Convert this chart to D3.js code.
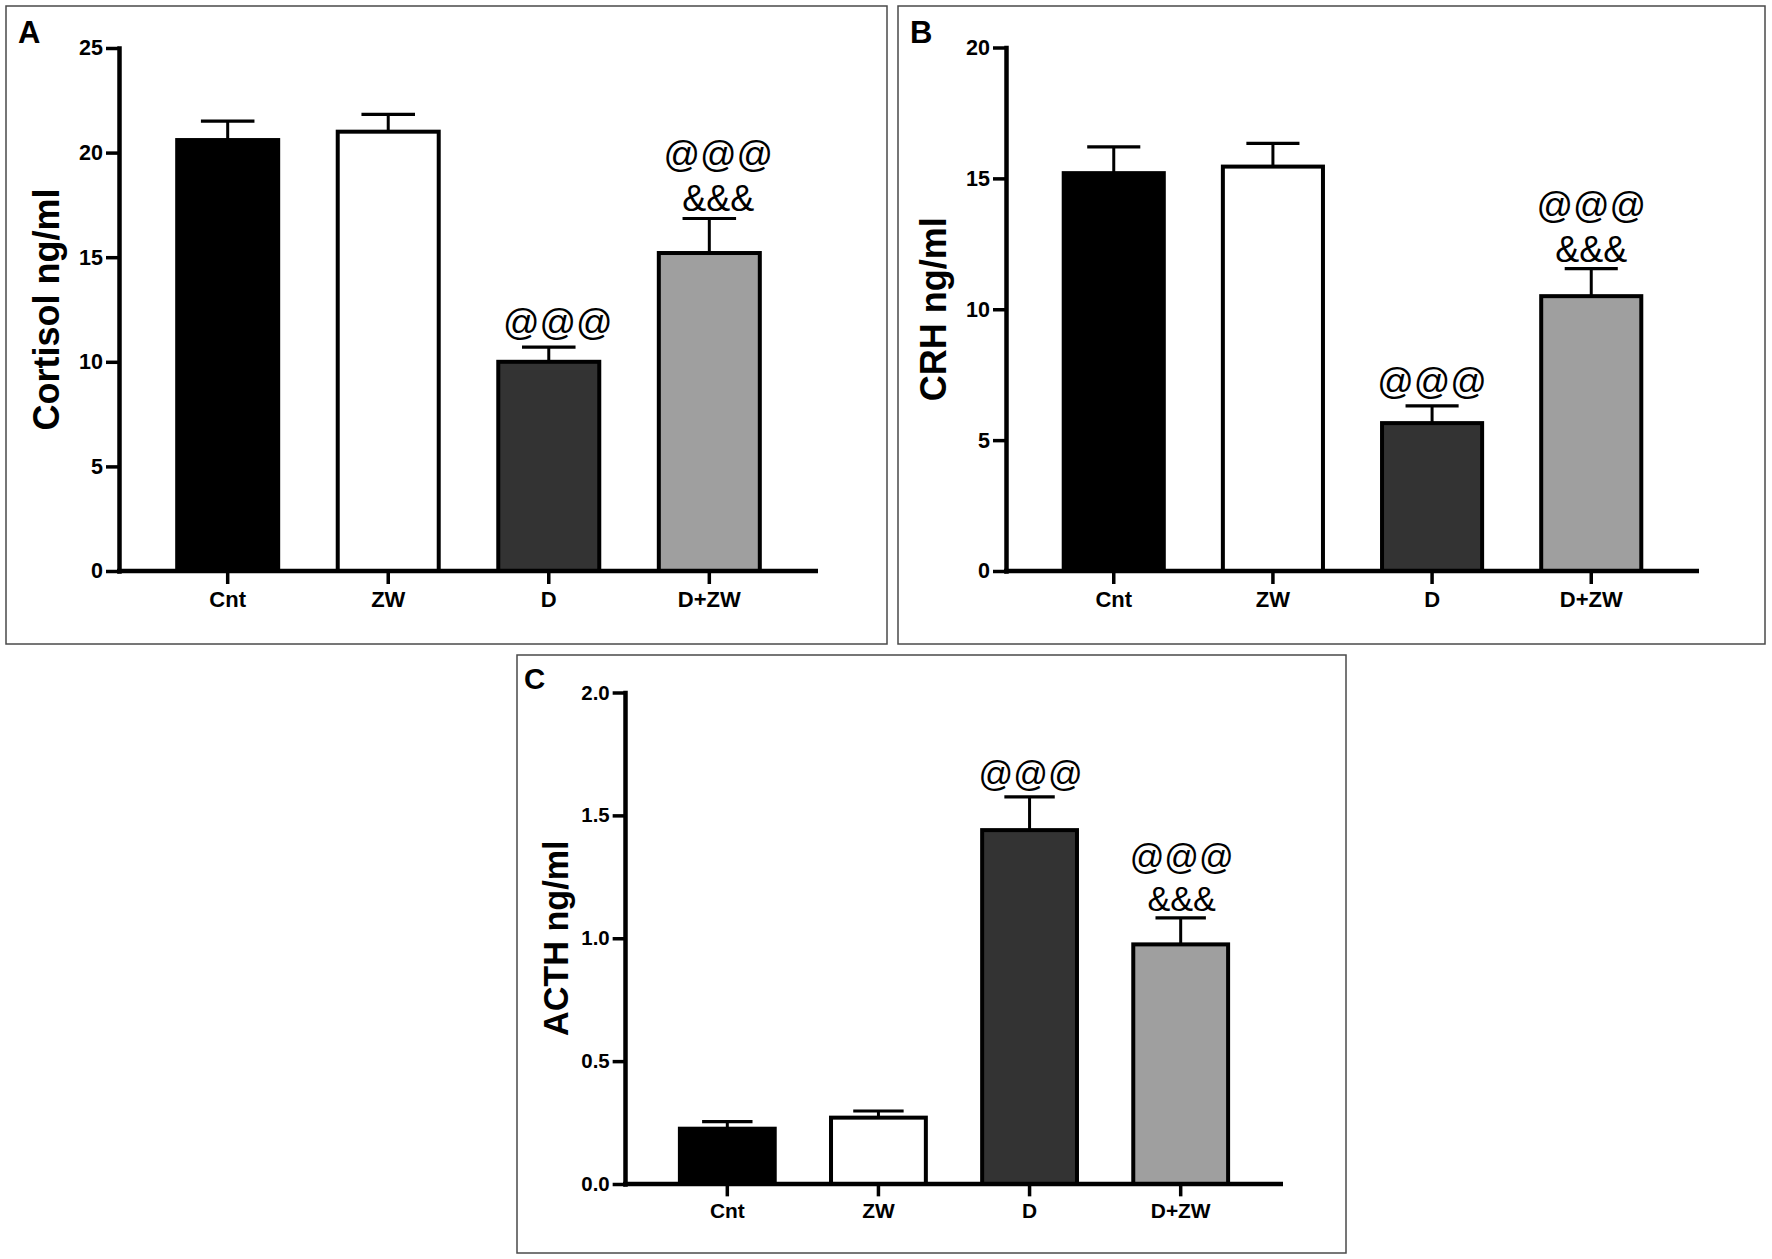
<!DOCTYPE html>
<html>
<head>
<meta charset="utf-8">
<script src="https://cdn.jsdelivr.net/npm/d3@7"></script>
<style>
  body { margin: 0; background: #fff; }
  svg text { font-family: "Liberation Sans", Arial, Helvetica, sans-serif; }
</style>
</head>
<body>
<div id="fig"></div>
<script>
// groups on the x axis
const categories = ["Cnt", "ZW", "D", "D+ZW"];
const barFills = ["#000000", "#ffffff", "#333333", "#9f9f9f"];

// Cortisol (A)
const cortisolMean = [20.6, 21.0, 10.0, 15.2];
const cortisolSem = [0.9, 0.83, 0.7, 1.65];
const cortisolTicks = [0, 5, 10, 15, 20, 25];

// CRH (B)
const crhMean = [15.2, 15.45, 5.65, 10.5];
const crhSem = [1.0, 0.89, 0.66, 1.05];
const crhTicks = [0, 5, 10, 15, 20];

// ACTH (C)
const acthMean = [0.225, 0.27, 1.44, 0.975];
const acthSem = [0.029, 0.027, 0.135, 0.108];
const acthTicks = [0, 0.5, 1.0, 1.5, 2.0];

// significance marks above each group (same for all panels)
const sigMarks = [[], [], ["@@@"], ["@@@", "&&&"]];

const W = 1772, H = 1259;

const svg = d3.select("#fig")
    .append("svg")
    .attr("width", W)
    .attr("height", H);

svg.append("rect")
    .attr("width", W)
    .attr("height", H)
    .attr("fill", "#fff");

// panel layout: frame box, axis origin, axis sizes, font scale
const panels = [
    { letter: "A", box: [6, 6, 881, 638], letterXY: [18, 43], ox: 119, oy: 571, plotH: 523, L: 699, k: 1, markDx: 9,
      title: "Cortisol ng/ml", mean: cortisolMean, sem: cortisolSem, ticks: cortisolTicks, fmt: d3.format("d") },
    { letter: "B", box: [898, 6, 867, 638], letterXY: [910, 43], ox: 1006, oy: 571, plotH: 523.5, L: 693, k: 1, markDx: 0,
      title: "CRH ng/ml", mean: crhMean, sem: crhSem, ticks: crhTicks, fmt: d3.format("d") },
    { letter: "C", box: [517, 655, 829, 598], letterXY: [524, 689], ox: 625, oy: 1184, plotH: 491.5, L: 658, k: 0.95, markDx: 1,
      title: "ACTH ng/ml", mean: acthMean, sem: acthSem, ticks: acthTicks, fmt: d3.format(".1f") }
];

panels.forEach(drawPanel);

function drawPanel(p) {
    const g = svg.append("g");

    // frame
    g.append("rect")
        .attr("x", p.box[0])
        .attr("y", p.box[1])
        .attr("width", p.box[2])
        .attr("height", p.box[3])
        .attr("fill", "none")
        .attr("stroke", "#4a4a4a")
        .attr("stroke-width", 1.5);

    g.append("text")
        .attr("x", p.letterXY[0])
        .attr("y", p.letterXY[1])
        .style("font-size", (31 * p.k) + "px")
        .style("font-weight", "bold")
        .text(p.letter);

    const y = d3.scaleLinear()
        .domain([0, d3.max(p.ticks)])
        .range([p.oy, p.oy - p.plotH]);

    const x = d3.scaleBand()
        .domain(categories)
        .range([p.ox, p.ox + p.L])
        .paddingInner(0.346)
        .paddingOuter(0.35);

    // error bars (drawn first, bars sit over their base)
    const bw = x.bandwidth();
    const groups = g.selectAll(".grp")
        .data(categories.map((c, i) => ({ c, m: p.mean[i], e: p.sem[i], fill: barFills[i], marks: sigMarks[i] })))
        .enter()
        .append("g")
        .attr("class", "grp");

    groups.append("line")
        .attr("x1", d => x(d.c) + bw / 2)
        .attr("x2", d => x(d.c) + bw / 2)
        .attr("y1", d => y(d.m))
        .attr("y2", d => y(d.m + d.e))
        .attr("stroke", "#000")
        .attr("stroke-width", 3);

    groups.append("line")
        .attr("x1", d => x(d.c) + bw * 0.245)
        .attr("x2", d => x(d.c) + bw * 0.755)
        .attr("y1", d => y(d.m + d.e))
        .attr("y2", d => y(d.m + d.e))
        .attr("stroke", "#000")
        .attr("stroke-width", 3.2);

    groups.append("rect")
        .attr("x", d => x(d.c) + 2)
        .attr("width", bw - 4)
        .attr("y", d => y(d.m))
        .attr("height", d => y(0) - y(d.m))
        .attr("fill", d => d.fill)
        .attr("stroke", "#000")
        .attr("stroke-width", 4);

    // significance text
    groups.each(function (d) {
        const capY = y(d.m + d.e);
        const n = d.marks.length;
        d.marks.forEach((s, j) => {
            const stacked = n - 1 - j > 0;
            let base;
            if (s === "&&&") base = capY - 7 * p.k;
            else base = capY - (stacked ? 51 : 12) * p.k;
            d3.select(this).append("text")
                .attr("x", x(d.c) + bw / 2 + p.markDx)
                .attr("y", base)
                .attr("text-anchor", "middle")
                .style("font-size", (36 * p.k) + "px")
                .text(s);
        });
    });

    // y axis
    const yAxis = g.append("g")
        .attr("transform", `translate(${p.ox},0)`)
        .call(d3.axisLeft(y)
            .tickValues(p.ticks)
            .tickFormat(p.fmt)
            .tickSize(13 * p.k)
            .tickSizeOuter(0)
            .tickPadding(3));
    yAxis.select(".domain")
        .attr("stroke", "#000")
        .attr("stroke-width", 4.5)
        .attr("stroke-linecap", "square");
    yAxis.selectAll(".tick line")
        .attr("stroke", "#000")
        .attr("stroke-width", 3.5);
    yAxis.selectAll(".tick text")
        .attr("fill", "#000")
        .style("font-size", (21.5 * p.k) + "px")
        .style("font-weight", "bold")
        .style("font-family", "'Liberation Sans', Arial, sans-serif");

    // x axis line spans the whole plot width
    g.append("line")
        .attr("x1", p.ox - 2)
        .attr("x2", p.ox + p.L)
        .attr("y1", p.oy)
        .attr("y2", p.oy)
        .attr("stroke", "#000")
        .attr("stroke-width", 4.5);

    const xAxis = g.append("g")
        .attr("transform", `translate(0,${p.oy})`)
        .call(d3.axisBottom(x)
            .tickSize(13 * p.k)
            .tickSizeOuter(0)
            .tickPadding(7 * p.k));
    xAxis.select(".domain").remove();
    xAxis.selectAll(".tick line")
        .attr("stroke", "#000")
        .attr("stroke-width", 3.5);
    xAxis.selectAll(".tick text")
        .attr("fill", "#000")
        .style("font-size", (22 * p.k) + "px")
        .style("font-weight", "bold")
        .style("font-family", "'Liberation Sans', Arial, sans-serif");

    // y axis title
    g.append("text")
        .attr("transform", `translate(${p.ox - 70 * p.k},${p.oy - p.plotH / 2}) rotate(-90)`)
        .attr("text-anchor", "middle")
        .attr("dy", "0.27em")
        .style("font-size", (36 * p.k) + "px")
        .style("font-weight", "bold")
        .text(p.title);
}
</script>
</body>
</html>
